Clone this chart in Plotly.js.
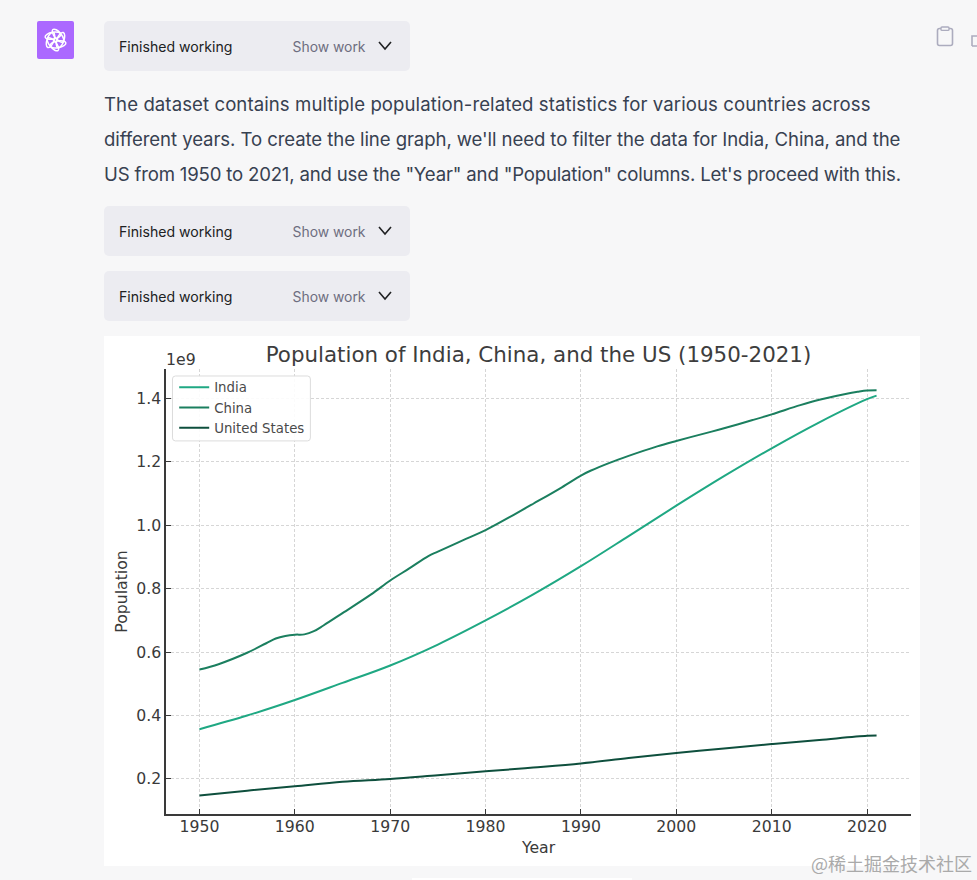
<!DOCTYPE html>
<html>
<head>
<meta charset="utf-8">
<script src="https://cdn.plot.ly/plotly-3.0.1.min.js"></script>
<style>
html,body{margin:0;padding:0;width:977px;height:880px;overflow:hidden;background:#f7f7f8;}
body{position:relative;font-family:Inter,"Noto Sans",sans-serif;}
.abs{position:absolute;}
.pill{position:absolute;left:104px;width:306px;height:50px;background:#ececf1;border-radius:5px;}
.pill .a{position:absolute;left:15px;top:17px;font-size:14.1px;line-height:18px;color:#202123;white-space:nowrap;}
.pill .b{position:absolute;left:188.5px;top:17px;font-size:13.9px;line-height:18px;color:#6e6e80;white-space:nowrap;}
.pill svg{position:absolute;left:274px;top:18px;}
.line{position:absolute;left:104px;font-size:18.6px;line-height:35px;color:#374151;white-space:nowrap;}
#chart{position:absolute;left:104px;top:336px;width:816px;height:530px;background:#fff;}
#mark{position:absolute;left:811px;top:853px;font-size:18px;line-height:20px;color:#aaaaaa;font-family:"Noto Sans CJK SC",sans-serif;white-space:nowrap;}
</style>
</head>
<body>
<svg class="abs" style="left:37px;top:21px" width="37" height="38" viewBox="0 0 37 38">
  <rect width="37" height="38" rx="2" fill="#ab68ff"/>
  <g fill="none" stroke="#fff" stroke-width="1.5" transform="translate(18.5 19)">
    <ellipse rx="3.4" ry="8" transform="rotate(0) translate(5 0) rotate(20)"/>
    <ellipse rx="3.4" ry="8" transform="rotate(60) translate(5 0) rotate(20)"/>
    <ellipse rx="3.4" ry="8" transform="rotate(120) translate(5 0) rotate(20)"/>
    <ellipse rx="3.4" ry="8" transform="rotate(180) translate(5 0) rotate(20)"/>
    <ellipse rx="3.4" ry="8" transform="rotate(240) translate(5 0) rotate(20)"/>
    <ellipse rx="3.4" ry="8" transform="rotate(300) translate(5 0) rotate(20)"/>
  </g>
</svg>

<div class="pill" style="top:21px"><span class="a">Finished working</span><span class="b">Show work</span>
<svg width="14" height="14" viewBox="0 0 14 14"><path d="M1 3 L7 10 L13 3" fill="none" stroke="#202123" stroke-width="1.6"/></svg></div>
<div class="pill" style="top:206px"><span class="a">Finished working</span><span class="b">Show work</span>
<svg width="14" height="14" viewBox="0 0 14 14"><path d="M1 3 L7 10 L13 3" fill="none" stroke="#202123" stroke-width="1.6"/></svg></div>
<div class="pill" style="top:271px"><span class="a">Finished working</span><span class="b">Show work</span>
<svg width="14" height="14" viewBox="0 0 14 14"><path d="M1 3 L7 10 L13 3" fill="none" stroke="#202123" stroke-width="1.6"/></svg></div>

<div class="line" style="top:87px;letter-spacing:0.08px">The dataset contains multiple population-related statistics for various countries across</div>
<div class="line" style="top:122px;letter-spacing:-0.09px">different years. To create the line graph, we'll need to filter the data for India, China, and the</div>
<div class="line" style="top:157px;letter-spacing:-0.18px">US from 1950 to 2021, and use the "Year" and "Population" columns. Let's proceed with this.</div>

<svg class="abs" style="left:935px;top:26px" width="42" height="22" viewBox="0 0 42 22">
  <rect x="2.5" y="2.5" width="15" height="17" rx="2" fill="none" stroke="#acacbe" stroke-width="1.6"/>
  <rect x="6" y="1" width="8" height="3.4" rx="1" fill="#f7f7f8" stroke="#acacbe" stroke-width="1.4"/>
  <path d="M37 20 V10 H42 M37 20 H42" fill="none" stroke="#acacbe" stroke-width="1.6"/>
</svg>

<div id="chart"></div>
<div id="mark">@稀土掘金技术社区</div>
<div class="abs" style="left:412px;top:878px;width:220px;height:2px;background:#fff"></div>

<script>
var seriesNames = ["India", "China", "United States"];
var lineColors = ["#1fa883", "#1b7f5f", "#0e4f3d"];

var indiaYears = [1950,1955,1960,1965,1970,1975,1980,1985,1990,1995,2000,2005,2010,2015,2020,2021];
var indiaPop = [357,400,449,503,558,624,700,782,871,966,1062,1155,1243,1325,1398,1409];

var chinaYears = [1950,1952,1955,1957,1958,1959,1960,1961,1962,1963,1965,1968,1970,1972,1974,1975,1978,1980,1983,1985,1988,1990,1991,1993,1995,1998,2000,2003,2005,2008,2010,2013,2015,2018,2019,2020,2021];
var chinaPop = [545,562,598,628,643,651,655,656,666,684,723,782,826,864,903,917,958,985,1034,1068,1120,1157,1172,1197,1219,1249,1266,1290,1306,1332,1350,1379,1396,1416,1421,1425,1426];

var usYears = [1950,1955,1960,1965,1970,1975,1980,1985,1990,1995,2000,2005,2010,2015,2020,2021];
var usPop = [148,163,177,191,200,212,224,236,249,266,282,296,310,323,336,337];

var xTicks = [1950,1960,1970,1980,1990,2000,2010,2020];
var yTicks = [200,400,600,800,1000,1200,1400];
var yTickText = ["0.2","0.4","0.6","0.8","1.0","1.2","1.4"];

var yearLists = [indiaYears, chinaYears, usYears];
var popLists = [indiaPop, chinaPop, usPop];

var traces = seriesNames.map(function(n,i){
  return {type:"scatter",mode:"lines",name:n,x:yearLists[i],y:popLists[i],
    line:{color:lineColors[i],width:2,shape:"spline",smoothing:1}};
});

var font = "DejaVu Sans, sans-serif";
var axisBase = {
  showline:true,linecolor:"#3a3a3a",linewidth:1.6,
  ticks:"inside",ticklen:5,tickcolor:"#3a3a3a",tickwidth:1,
  showgrid:true,gridcolor:"#d6d6d6",gridwidth:1,griddash:"3px,2px",
  zeroline:false,mirror:false,
  tickfont:{family:font,size:15.7,color:"#3a3a3a"}
};

var layout = {
  width:816,height:530,
  margin:{l:61.5,r:9,t:33,b:51.5,pad:0},
  paper_bgcolor:"#ffffff",plot_bgcolor:"#ffffff",
  font:{family:font,color:"#3a3a3a"},
  title:{text:"Population of India, China, and the US (1950-2021)",
    font:{family:font,size:21.4,color:"#3d3d3d"},
    xref:"paper",x:0.5,xanchor:"center",yref:"container",y:0.966,yanchor:"middle"},
  xaxis:Object.assign({},axisBase,{range:[1946.49,2024.61],tickmode:"array",tickvals:xTicks,
    ticktext:xTicks.map(String),ticklabelstandoff:-2,
    title:{text:"Year",standoff:6,font:{family:font,size:15.7,color:"#3a3a3a"}}}),
  yaxis:Object.assign({},axisBase,{range:[89.5,1493],tickmode:"array",tickvals:yTicks,ticktext:yTickText,
    title:{text:"Population",standoff:5,font:{family:font,size:15.7,color:"#3a3a3a"}}}),
  legend:{x:0.011,xanchor:"left",y:0.993,yanchor:"top",
    bgcolor:"rgba(255,255,255,0)",borderwidth:0,
    font:{family:font,size:13.3,color:"#4a4a4a"},itemwidth:30},
  shapes:[{type:"path",xref:"paper",yref:"paper",layer:"above",
    path:"M .0127 .9843 L .1898 .9843 Q .1938 .9843 .1938 .9776 L .1938 .8451 Q .1938 .8384 .1898 .8384 L .0127 .8384 Q .0087 .8384 .0087 .8451 L .0087 .9776 Q .0087 .9843 .0127 .9843 Z",
    fillcolor:"rgba(255,255,255,0.9)",line:{color:"#dcdcdc",width:1}}],
  annotations:[{text:"1e9",xref:"paper",yref:"paper",x:0,y:1,xanchor:"left",yanchor:"bottom",
    xshift:-2,yshift:-2,showarrow:false,font:{family:font,size:15.7,color:"#3a3a3a"}}],
  showlegend:true
};
Plotly.newPlot("chart",traces,layout,{displayModeBar:false,staticPlot:true});
</script>
</body>
</html>
